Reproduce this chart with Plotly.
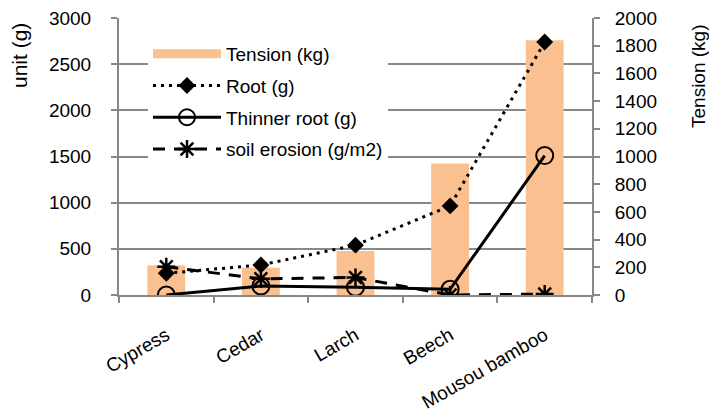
import plotly.graph_objects as go

categories = ["Cypress", "Cedar", "Larch", "Beech", "Mousou bamboo"]
tension_kg = [215, 197, 318, 950, 1840]
root_g = [235, 325, 540, 965, 2740]
thinner_root_g = [0, 97, 85, 62, 1510]
soil_erosion = [305, 175, 190, 0, 10]

left_ticks = [0, 500, 1000, 1500, 2000, 2500, 3000]
right_ticks = [0, 200, 400, 600, 800, 1000, 1200, 1400, 1600, 1800, 2000]

FONT = "Liberation Sans, Arial, sans-serif"
GRID = "#888888"
BAR = "#FAC090"

W, H = 709, 414
L, R, T, B = 119, 117, 18, 119
pw, ph = W - L - R, H - T - B

def px_x(x):
    return (x - L) / pw

def px_y(y):
    return (H - B - y) / ph

fig = go.Figure()

fig.add_trace(go.Bar(
    x=categories, y=tension_kg, name="Tension (kg)", yaxis="y",
    marker=dict(color=BAR, line=dict(width=0)), width=0.4,
    showlegend=False,
))
# legend entry for the bars (long flat swatch as in the reference)
fig.add_trace(go.Scatter(
    x=[None], y=[None], name="Tension (kg)", mode="lines", yaxis="y2",
    line=dict(color=BAR, width=9), legendgroup="a",
))
fig.add_trace(go.Scatter(
    x=categories, y=root_g, name="Root (g)", yaxis="y2", mode="lines+markers",
    line=dict(color="black", width=3, dash="3px,5px"),
    marker=dict(symbol="diamond", size=13, color="black"), legendgroup="b",
))
fig.add_trace(go.Scatter(
    x=categories, y=thinner_root_g, name="Thinner root (g)", yaxis="y2",
    mode="lines+markers",
    line=dict(color="black", width=3),
    marker=dict(symbol="circle-open", size=17, color="black", line=dict(width=2)),
    legendgroup="c",
))
fig.add_trace(go.Scatter(
    x=categories, y=soil_erosion, name="soil erosion (g/m2)", yaxis="y2",
    mode="lines+markers",
    line=dict(color="black", width=3, dash="12px,9px"),
    marker=dict(symbol="asterisk-open", size=15, color="black", line=dict(width=2.5, color="black")),
    legendgroup="d",
))

fig.update_layout(
    width=W, height=H,
    margin=dict(l=L, r=R, t=T, b=B, pad=0),
    paper_bgcolor="white", plot_bgcolor="white",
    font=dict(family=FONT, size=19, color="black"),
    xaxis=dict(
        type="category", range=[-0.5, 4.5], automargin=False,
        showline=True, linecolor=GRID, linewidth=2,
        ticks="outside", tickson="boundaries", ticklen=6, tickcolor=GRID, tickwidth=2,
        tickangle=-30, showgrid=False, zeroline=False,
        ticklabelstandoff=20,
        tickfont=dict(family=FONT, size=19, color="black"),
    ),
    yaxis=dict(
        side="right", range=[0, 2000], tickvals=right_ticks, automargin=False,
        showgrid=False, zeroline=False,
        showline=True, linecolor=GRID, linewidth=2,
        ticks="outside", ticklen=6, tickcolor=GRID, tickwidth=2,
        ticklabelstandoff=11,
        tickfont=dict(family=FONT, size=19, color="black"),
    ),
    yaxis2=dict(
        overlaying="y", side="left", range=[0, 3000], tickvals=left_ticks, automargin=False,
        showgrid=True, gridcolor=GRID, gridwidth=2, zeroline=False,
        showline=True, linecolor=GRID, linewidth=2,
        ticks="outside", ticklen=6, tickcolor=GRID, tickwidth=2,
        ticklabelstandoff=16,
        tickfont=dict(family=FONT, size=19, color="black"),
    ),
    legend=dict(
        x=px_x(148), y=px_y(35), xanchor="left", yanchor="top",
        bgcolor="white", borderwidth=0,
        font=dict(family=FONT, size=19, color="black"),
        tracegroupgap=4, itemwidth=68,
        entrywidth=195, entrywidthmode="pixels",
    ),
    annotations=[
        dict(text="unit (g)", textangle=-90, xref="paper", yref="paper",
             x=px_x(20), y=px_y(56), showarrow=False,
             xanchor="center", yanchor="middle",
             font=dict(family=FONT, size=21, color="black")),
        dict(text="Tension (kg)", textangle=-90, xref="paper", yref="paper",
             x=px_x(698), y=px_y(76), showarrow=False,
             xanchor="center", yanchor="middle",
             font=dict(family=FONT, size=19, color="black")),
    ],
)

fig.write_html(
    "out.html",
    config={"displayModeBar": False},
    post_script="document.body.style.margin='0';document.body.style.overflow='hidden';",
)
